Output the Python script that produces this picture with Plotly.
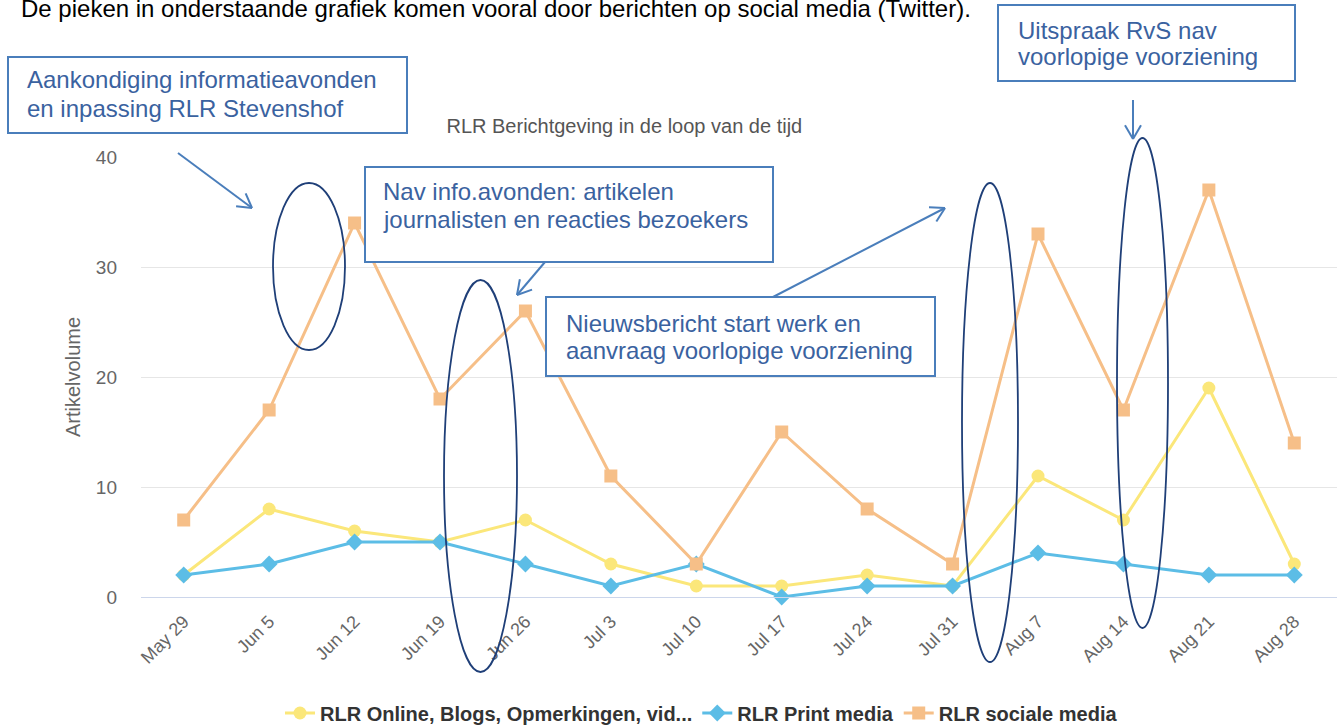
import math
import plotly.graph_objects as go

categories = ["May 29", "Jun 5", "Jun 12", "Jun 19", "Jun 26", "Jul 3", "Jul 10",
              "Jul 17", "Jul 24", "Jul 31", "Aug 7", "Aug 14", "Aug 21", "Aug 28"]
online = [2, 8, 6, 5, 7, 3, 1, 1, 2, 1, 11, 7, 19, 3]
print_media = [2, 3, 5, 5, 3, 1, 3, 0, 1, 1, 4, 3, 2, 2]
social = [7, 17, 34, 18, 26, 11, 3, 15, 8, 3, 33, 17, 37, 14]
series_names = ["RLR Online, Blogs, Opmerkingen, vid...", "RLR Print media", "RLR sociale media"]

W, H = 1343, 726
L, R, T, B = 141, 6, 157, 129
PW, PH = W - L - R, H - T - B

def px(x):
    return (x - L) / PW

def py(y):
    return (H - B - y) / PH

FONT = "Liberation Sans, Arial, sans-serif"
BOXBLUE = "#4a7ebb"
TXTBLUE = "#3a62a0"
NAVY = "#1f3f78"

fig = go.Figure()
fig.add_trace(go.Scatter(x=categories, y=online, name=series_names[0], mode="lines+markers",
                         line=dict(color="#fbe77a", width=3),
                         marker=dict(symbol="circle", size=13, color="#fbe77a"), cliponaxis=False))
fig.add_trace(go.Scatter(x=categories, y=print_media, name=series_names[1], mode="lines+markers",
                         line=dict(color="#5cbde6", width=3),
                         marker=dict(symbol="diamond", size=13, color="#5cbde6"), cliponaxis=False))
fig.add_trace(go.Scatter(x=categories, y=social, name=series_names[2], mode="lines+markers",
                         line=dict(color="#f6bf88", width=3),
                         marker=dict(symbol="square", size=13, color="#f6bf88"), cliponaxis=False))

shapes = []
annotations = []

# text boxes
boxes = [
    ((8, 57, 407, 133), 28, [80, 108], ["Aankondiging informatieavonden", "en inpassing RLR Stevenshof"]),
    ((365, 167, 773, 262), 384, [191, 219], ["Nav info.avonden: artikelen", "journalisten en reacties bezoekers"]),
    ((546, 297, 935, 376), 567, [323, 350], ["Nieuwsbericht start werk en", "aanvraag voorlopige voorziening"]),
    ((998, 5, 1295, 81), 1019, [30, 57], ["Uitspraak RvS nav", "voorlopige voorziening"]),
]
for (x0, y0, x1, y1), tx, tys, lines in boxes:
    shapes.append(dict(type="rect", xref="paper", yref="paper", x0=px(x0), x1=px(x1),
                       y0=py(y1), y1=py(y0), line=dict(color=BOXBLUE, width=2),
                       fillcolor="white", layer="above"))
    for ty, line in zip(tys, lines):
        annotations.append(dict(xref="paper", yref="paper", x=px(tx - 3), y=py(ty), xanchor="left",
                                yanchor="middle", align="left", showarrow=False, text=line,
                                font=dict(family=FONT, size=24, color=TXTBLUE)))

# ellipses
for x0, y0, x1, y1 in [(273, 183, 345, 350), (444, 280, 517, 672),
                       (962, 183, 1018, 662), (1117, 138, 1168, 628)]:
    shapes.append(dict(type="circle", xref="paper", yref="paper", x0=px(x0), x1=px(x1),
                       y0=py(y1), y1=py(y0), line=dict(color=NAVY, width=1.8), layer="above"))

# arrows with open V heads: (tail, head)
for (sx, sy), (hx, hy) in [((178, 153), (252, 208)), ((545, 262), (517, 295)),
                           ((773, 297), (945, 208)), ((1133, 100), (1133, 139))]:
    shapes.append(dict(type="line", xref="paper", yref="paper", x0=px(sx), y0=py(sy),
                       x1=px(hx), y1=py(hy), line=dict(color=BOXBLUE, width=2), layer="above"))
    ang = math.atan2(hy - sy, hx - sx)
    for d in (math.radians(150), math.radians(-150)):
        ex = hx + 16 * math.cos(ang + d)
        ey = hy + 16 * math.sin(ang + d)
        shapes.append(dict(type="line", xref="paper", yref="paper", x0=px(hx), y0=py(hy),
                           x1=px(ex), y1=py(ey), line=dict(color=BOXBLUE, width=2), layer="above"))

# top text
annotations.append(dict(xref="paper", yref="paper", x=px(19), y=py(8), xanchor="left",
                        yanchor="middle", showarrow=False,
                        text="De pieken in onderstaande grafiek komen vooral door berichten op social media (Twitter).",
                        font=dict(family=FONT, size=24, color="#000000")))

# y-axis title
annotations.append(dict(xref="paper", yref="paper", x=px(73), y=py(377), xanchor="center",
                        yanchor="middle", showarrow=False, textangle=-90, text="Artikelvolume",
                        font=dict(family=FONT, size=20, color="#666666")))

fig.update_layout(
    width=W, height=H,
    margin=dict(l=L, r=R, t=T, b=B, pad=0, autoexpand=False),
    paper_bgcolor="white", plot_bgcolor="white",
    font=dict(family=FONT, color="#666666"),
    title=dict(text="RLR Berichtgeving in de loop van de tijd", x=px(697), xanchor="center",
               y=1 - 126 / H, yanchor="middle", font=dict(family=FONT, size=20, color="#555555")),
    xaxis=dict(type="category", range=[-0.5, 13.5], showgrid=False, tickangle=-45,
               tickfont=dict(family=FONT, size=18, color="#666666"), showline=True,
               linecolor="#ccd6eb", linewidth=1, ticks="", zeroline=False, automargin=False,
               ticklabelstandoff=6),
    yaxis=dict(range=[0, 40], tickvals=[0, 10, 20, 30, 40], gridcolor="#e6e6e6", gridwidth=1,
               zeroline=False, showline=False, ticks="", ticklabelstandoff=23, automargin=False,
               tickfont=dict(family=FONT, size=19, color="#666666")),
    legend=dict(orientation="h", x=px(280), xanchor="left", y=py(713), yanchor="middle",
                font=dict(family=FONT, size=20, color="#333333", weight="bold"),
                itemwidth=30, tracegroupgap=0),
    showlegend=True,
    shapes=shapes,
    annotations=annotations,
)

fig.write_html("out.html", config={"displayModeBar": False},
               post_script="document.body.style.margin='0';document.body.style.overflow='hidden';")
